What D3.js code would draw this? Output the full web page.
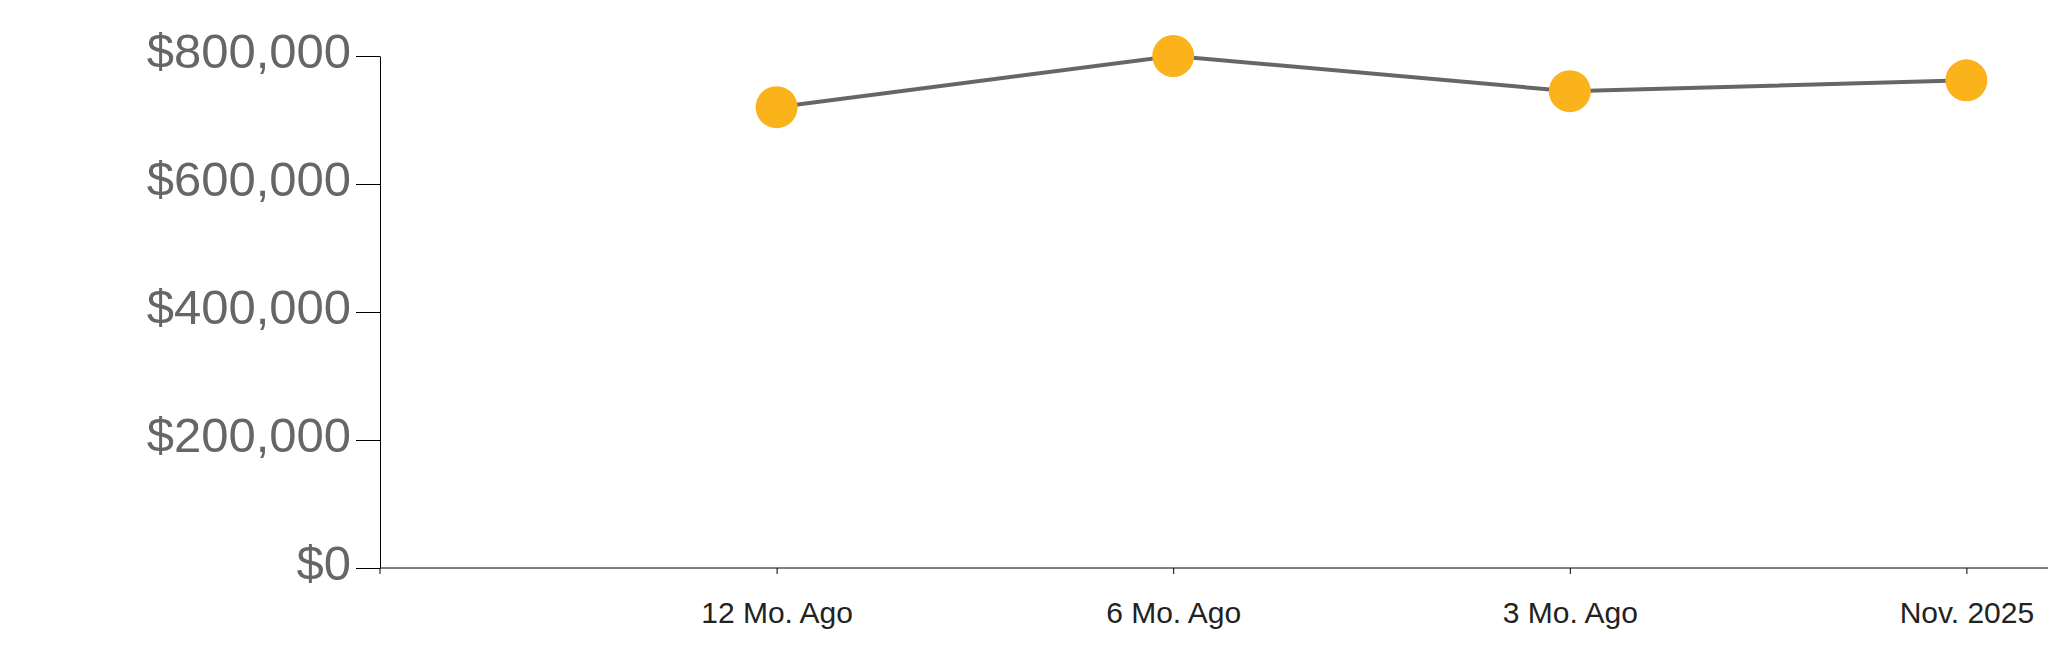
<!DOCTYPE html>
<html>
<head>
<meta charset="utf-8">
<script src="https://cdn.jsdelivr.net/npm/d3@7"></script>
<style>
  body { margin: 0; background: #fff; overflow: hidden; }
  svg { display: block; font-family: "Liberation Sans", Arial, sans-serif; }
  .axis path, .axis line { stroke: #000; }
  .y-axis text { fill: #666; font-size: 49px; }
  .x-axis text { fill: #222; font-size: 30px; }
</style>
</head>
<body>
<script>
var width = 2048;
var height = 663;

var categories = ["12 Mo. Ago", "6 Mo. Ago", "3 Mo. Ago", "Nov. 2025"];
var prices = [720000, 800000, 745000, 762000];
var yTicks = [0, 200000, 400000, 600000, 800000];

var data = categories.map(function(c, i) {
    return { label: c, value: prices[i] };
});

var plotLeft = 380, plotTop = 56, plotBottom = 568, plotRight = 2363;

// point scale runs past the right edge, the last step gets clipped like the original
var x = d3.scalePoint()
    .domain(categories)
    .range([plotLeft, plotRight])
    .padding(1);

var y = d3.scaleLinear()
    .domain([0, 800000])
    .range([plotBottom, plotTop]);

var svg = d3.select("body").append("svg")
    .attr("width", width)
    .attr("height", height);

// y axis
var yAxis = svg.append("g")
    .attr("class", "axis y-axis")
    .attr("transform", "translate(" + plotLeft + ",0)")
    .call(d3.axisLeft(y).tickValues(yTicks).tickFormat(d3.format("$,")).tickSize(24).tickSizeOuter(0));
yAxis.selectAll("text").attr("dy", "0.24em").attr("x", -29);

// x axis
var xAxis = svg.append("g")
    .attr("class", "axis x-axis")
    .attr("transform", "translate(0," + plotBottom + ")")
    .call(d3.axisBottom(x).tickSize(6).tickSizeOuter(0));
xAxis.select(".domain").attr("d", "M" + plotLeft + ",6V0H" + plotRight);
xAxis.selectAll("text").attr("y", 55).attr("dy", 0);

// line
var line = d3.line()
    .x(function(d) { return x(d.label); })
    .y(function(d) { return y(d.value); });

svg.append("path")
    .datum(data)
    .attr("fill", "none")
    .attr("stroke", "#666")
    .attr("stroke-width", 4)
    .attr("d", line);

// dots
svg.selectAll(".dot")
    .data(data)
    .enter().append("circle")
    .attr("class", "dot")
    .attr("cx", function(d) { return x(d.label); })
    .attr("cy", function(d) { return y(d.value); })
    .attr("r", 21)
    .attr("fill", "#fbb31b");
</script>
</body>
</html>
